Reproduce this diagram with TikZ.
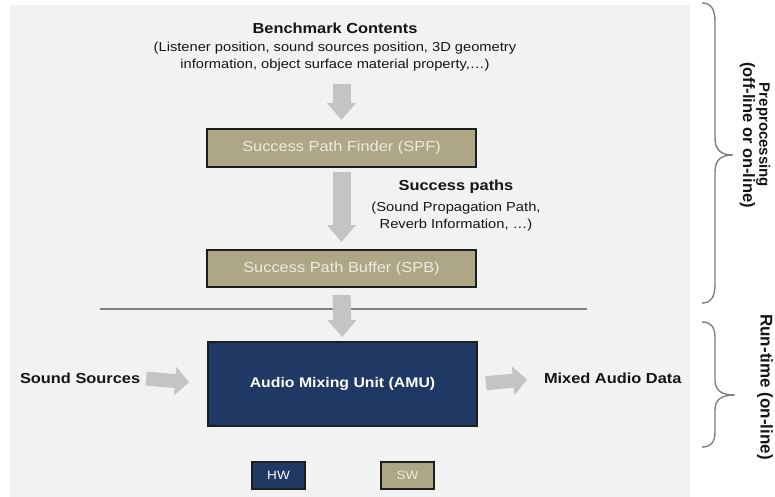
\documentclass[tikz,border=0pt]{standalone}
\usepackage{fontspec}
\setmainfont{Liberation Sans}[FakeStretch=1.13]
\newfontfamily\sidefont{Liberation Sans}
\usetikzlibrary{arrows.meta}

\definecolor{panel}{HTML}{F2F2F2}
\definecolor{khaki}{HTML}{ADA687}
\definecolor{navy}{HTML}{1F3864}
\definecolor{arrowgray}{HTML}{C4C4C4}
\definecolor{linegray}{HTML}{808080}
\definecolor{cream}{HTML}{EEEBDD}
\definecolor{ink}{HTML}{151515}
\definecolor{boxedge}{HTML}{1E1E1E}

\begin{document}
\begin{tikzpicture}[x=1pt,y=-1pt,
  every node/.style={inner sep=0pt, outer sep=0pt},
  heading/.style={font=\bfseries\fontsize{14.5}{17}\selectfont, text=ink},
  note/.style={font=\fontsize{13}{17}\selectfont, align=center, text=ink},
  swbox/.style={draw=boxedge, line width=1.6pt, fill=khaki, text=cream,
    font=\fontsize{14.5}{17}\selectfont},
  hwbox/.style={draw=boxedge, line width=1.6pt, fill=navy, text=white},
  blockv/.style={color=arrowgray, line width=18pt, -{Triangle[length=17pt,width=28pt]}},
  blockh/.style={color=arrowgray, line width=14pt, -{Triangle[length=14pt,width=28pt]}},
  bracket/.style={draw=linegray, line width=1.4pt},
  sidelabel/.style={font=\sidefont\bfseries, text=ink, align=center, rotate=-90},
]
\useasboundingbox (0,0) rectangle (775,497);

% grey panel behind the flow
\fill[panel] (10,5) rectangle (690,497);

% boundary between preprocessing and run-time parts
\coordinate (sepL) at (100,309);
\coordinate (sepR) at (587,309);
\draw[draw=linegray, line width=2pt] (sepL) -- (sepR);

% input description
\node[heading] (bench) at (335,28) {Benchmark Contents};
\node[note] (benchinfo) at (335,57)
  {(Listener position, sound sources position, 3D geometry\\
   information, object surface material property,\dots)};

% software blocks
\node[swbox, minimum width=269pt, minimum height=38pt] (spf) at (341.5,148)
  {Success Path Finder (SPF)};
\node[swbox, minimum width=269pt, minimum height=37pt] (spb) at (341.5,268.5)
  {Success Path Buffer (SPB)};

% intermediate result
\node[heading] (paths) at (456,187) {Success paths};
\node[note] (pathsinfo) at (456,217)
  {(Sound Propagation Path,\\ Reverb Information, \dots)};

% hardware block
\node[hwbox, minimum width=269pt, minimum height=84pt,
      font=\bfseries\fontsize{14}{17}\selectfont] (amu) at (342.5,384)
  {Audio Mixing Unit (AMU)};

% audio input and output
\node[heading, anchor=west] (src) at (20,378) {Sound Sources};
\node[heading, anchor=west] (mix) at (544,378) {Mixed Audio Data};

% flow arrows
\coordinate (a1) at (341,84);
\draw[blockv, shorten >=9pt] (spf.north |- a1) -- (spf.north);
\draw[blockv, shorten <=5pt, shorten >=8pt] (spf.south) -- (spb.north);
\draw[blockv, shorten <=8pt, shorten >=5pt] (spb.south) -- (amu.north);
\draw[blockh, shorten <=6pt, shorten >=19pt] (src.east) -- (amu.west);
\draw[blockh, shorten <=9pt, shorten >=17pt] (amu.east) -- (mix.west);

% legend
\node[hwbox, minimum width=53pt, minimum height=27pt,
      font=\fontsize{12}{14}\selectfont] (hw) at (278.5,475.5) {HW};
\node[swbox, minimum width=53pt, minimum height=27pt,
      font=\fontsize{12}{14}\selectfont] (sw) at (407.5,475.5) {SW};

% phase braces
\coordinate (pTop) at (702,3);
\coordinate (pTip) at (733,155);
\coordinate (pBot) at (702,303);
\draw[bracket] (pTop) .. controls (711,3) and (715,9) .. (715,22)
  -- (715,138) .. controls (715,150) and (721,155) .. (pTip)
  .. controls (721,155) and (715,160) .. (715,172)
  -- (715,284) .. controls (715,297) and (711,303) .. (pBot);

\coordinate (rTop) at (702,322);
\coordinate (rTip) at (735,395);
\coordinate (rBot) at (702,447);
\draw[bracket] (rTop) .. controls (711,322) and (715,327) .. (715,338)
  -- (715,380) .. controls (715,391) and (722,395) .. (rTip)
  .. controls (722,395) and (715,399) .. (715,410)
  -- (715,432) .. controls (715,442) and (711,447) .. (rBot);

\node[sidelabel] (pre) at (755,135)
  {\fontsize{15}{20}\selectfont Preprocessing\\
   \fontsize{16.5}{20}\selectfont (off-line or on-line)};
\node[sidelabel, font=\sidefont\bfseries\fontsize{17}{20}\selectfont] (run)
  at (765,387) {Run-time (on-line)};
\end{tikzpicture}
\end{document}
